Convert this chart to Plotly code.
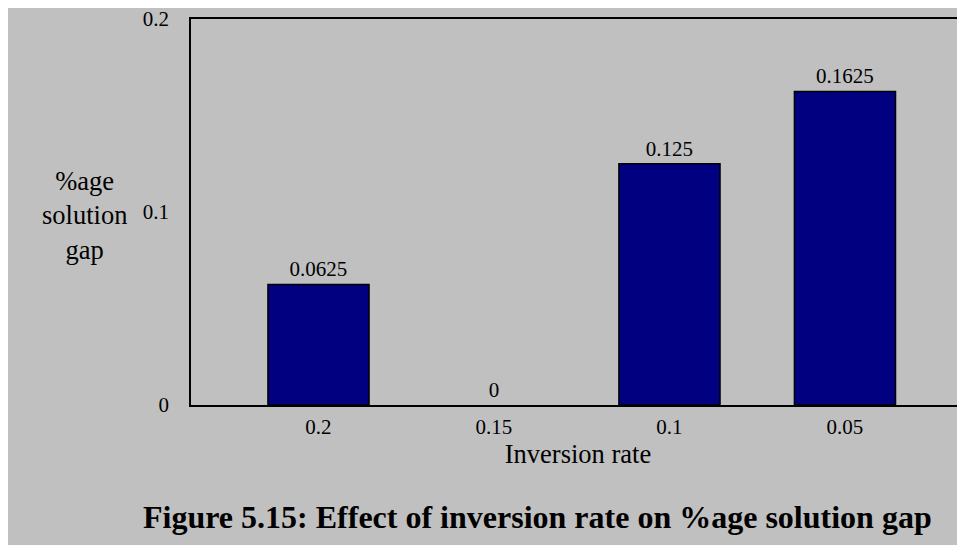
import plotly.graph_objects as go

categories = ["0.2", "0.15", "0.1", "0.05"]
gap_values = [0.0625, 0, 0.125, 0.1625]
value_labels = ["0.0625", "0", "0.125", "0.1625"]
y_ticks = [0, 0.1, 0.2]
y_tick_labels = ["0", "0.1", "0.2"]

# the page body adds an 8px offset; figure coords = reference coords - 8
OFF = 8
W, H = 965 - OFF, 555 - OFF
L, R, T, B = 191 - OFF, 0, 19 - OFF, 150
pw = W - L - R
ph = H - T - B

def px_x(x):
    return (x - OFF - L) / pw

def px_y(y):
    return (H - B - (y - OFF)) / ph

GREY = "#c0c0c0"
FONT = "Liberation Serif, Times New Roman, serif"

fig = go.Figure()
fig.add_trace(go.Bar(
    x=categories,
    y=gap_values,
    text=value_labels,
    textposition="outside",
    textfont=dict(family=FONT, size=21, color="black"),
    cliponaxis=False,
    marker=dict(color="#000080",
                line=dict(color="black", width=[1.5 if v > 0 else 0 for v in gap_values])),
    width=0.576,
))

fig.update_layout(
    width=W, height=H,
    margin=dict(l=L, r=R, t=T, b=B),
    paper_bgcolor="white",
    plot_bgcolor=GREY,
    showlegend=False,
    font=dict(family=FONT, color="black"),
    xaxis=dict(
        type="category",
        range=[-0.7265, 3.684],
        showline=True, linecolor="black", linewidth=1.5, mirror=True,
        showgrid=False, zeroline=False,
        ticks="", tickfont=dict(family=FONT, size=21, color="black"),
        ticklabelstandoff=2,
        title=dict(text="Inversion rate", font=dict(family=FONT, size=26.5, color="black"), standoff=4),
    ),
    yaxis=dict(
        range=[0, 0.2],
        tickvals=y_ticks, ticktext=y_tick_labels,
        showline=True, linecolor="black", linewidth=1.5, mirror=False,
        showgrid=False, zeroline=False,
        ticks="", tickfont=dict(family=FONT, size=21, color="black"),
        ticklabelstandoff=16,
        ticklabeloverflow="allow",
    ),
    shapes=[dict(
        type="rect", xref="paper", yref="paper",
        x0=px_x(0), x1=px_x(975), y0=px_y(545), y1=px_y(0),
        fillcolor=GREY, line=dict(width=0), layer="below",
    )],
    annotations=[
        dict(text="%age<br>solution<br>gap", xref="paper", yref="paper",
             x=px_x(84), y=px_y(215), xanchor="center", yanchor="middle",
             showarrow=False, align="center",
             font=dict(family=FONT, size=26.5, color="black")),
        dict(text="<b>Figure 5.15: Effect of inversion rate on %age solution gap</b>",
             xref="paper", yref="paper",
             x=px_x(537), y=px_y(517), xanchor="center", yanchor="middle",
             showarrow=False,
             font=dict(family=FONT, size=32, color="black")),
    ],
)

fig.write_html("out.html")
